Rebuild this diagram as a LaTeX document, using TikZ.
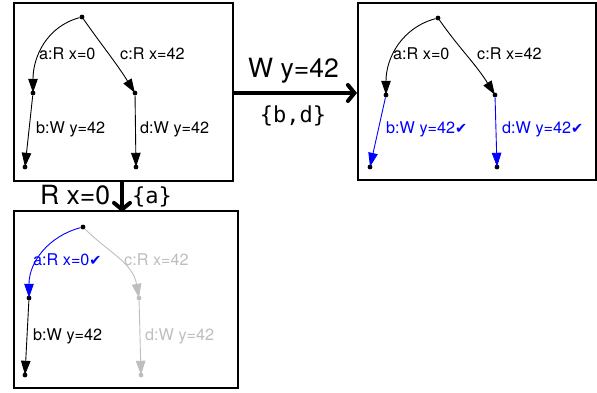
\documentclass[tikz,border=0pt]{standalone}
\usepackage{fontspec}
\setmainfont{TeX Gyre Heros}
\setmonofont{DejaVu Sans Mono}
\newfontfamily\chkfont{DejaVu Sans}
\newcommand{\chk}{{\chkfont\fontsize{14.5}{16}\selectfont ✔}}
\usetikzlibrary{arrows.meta}
\definecolor{lightg}{RGB}{190,190,190}
\definecolor{pblue}{RGB}{0,0,255}
\begin{document}
\begin{tikzpicture}[x=1pt,y=1pt,
  frame/.style={draw=black,line width=2pt},
  dot/.style={circle,fill,inner sep=0pt,minimum size=4.8pt},
  edge/.style={line width=0.9pt,-{Triangle[length=14pt,width=9.5pt]},shorten >=-2.4pt},
  lbl/.style={anchor=base west,inner sep=0pt,font=\fontsize{16.2}{19}\selectfont},
  big/.style={line width=4pt,-{Straight Barb[length=6.5pt,width=16pt,line cap=round]}},
  biglbl/.style={inner sep=0pt,font=\fontsize{26.5}{30}\selectfont},
  monolbl/.style={inner sep=0pt,font=\ttfamily\fontsize{22}{26}\selectfont},
  done/.style={pblue},
  faded/.style={lightg}]
\useasboundingbox (0,0) rectangle (597,393);
% frames
\node[frame,minimum width=219pt,minimum height=178pt,inner sep=0pt,anchor=south west] (box1) at (13,211) {};
\node[frame,minimum width=238pt,minimum height=177pt,inner sep=0pt,anchor=south west] (box2) at (357,212) {};
\node[frame,minimum width=224pt,minimum height=177pt,inner sep=0pt,anchor=south west] (box3) at (13,4) {};
% box 1
\node[dot] (t1) at (82,376) {};
\node[dot] (a1) at (33,300) {};
\node[dot] (c1) at (135,300) {};
\node[dot] (b1) at (25,226) {};
\node[dot] (d1) at (136,226) {};
\draw[edge] (t1) to[out=195,in=90] (a1);
\draw[edge] (t1) to[out=-55,in=122] (c1);
\draw[edge] (a1) -- (b1);
\draw[edge] (c1) -- (d1);
\node[lbl] (la1) at (39,333) {a:R x=0};
\node[lbl] (lc1) at (120,333) {c:R x=42};
\node[lbl] (lb1) at (36,259) {b:W y=42};
\node[lbl] (ld1) at (140,259) {d:W y=42};
% box 2
\node[dot] (t2) at (438,375) {};
\node[dot] (a2) at (386,298) {};
\node[dot] (c2) at (495,298) {};
\node[dot] (b2) at (370,226) {};
\node[dot] (d2) at (497,226) {};
\draw[edge] (t2) to[out=195,in=90] (a2);
\draw[edge] (t2) to[out=-55,in=122] (c2);
\draw[edge,done] (a2) -- (b2);
\draw[edge,done] (c2) -- (d2);
\node[lbl] (la2) at (393,333) {a:R x=0};
\node[lbl] (lc2) at (477,333) {c:R x=42};
\node[lbl,done] (lb2) at (386,259) {b:W y=42\chk};
\node[lbl,done] (ld2) at (502,259) {d:W y=42\chk};
% box 3
\node[dot] (t3) at (83,166) {};
\node[dot] (a3) at (29,95) {};
\node[dot,faded] (c3) at (139,95) {};
\node[dot] (b3) at (25,18) {};
\node[dot,faded] (d3) at (141,18) {};
\draw[edge,done] (t3) to[out=195,in=90] (a3);
\draw[edge,faded] (t3) to[out=-45,in=100] (c3);
\draw[edge] (a3) -- (b3);
\draw[edge,faded] (c3) -- (d3);
\node[lbl,done] (la3) at (33,127) {a:R x=0\chk};
\node[lbl,faded] (lc3) at (124,127) {c:R x=42};
\node[lbl] (lb3) at (33,52) {b:W y=42};
\node[lbl,faded] (ld3) at (145,52) {d:W y=42};
% transitions
\coordinate (r1) at (box1.east |- 0,300);
\coordinate (r2) at (box2.west |- 0,300);
\draw[big] (r1) -- (r2);
\node[biglbl,anchor=base west] (wl) at (248,315) {W y=42};
\node[monolbl] (wset) at (293,277) {\{b,d\}};
\coordinate (s1) at (122,211);
\coordinate (s2) at (122,181);
\draw[big] (s1) -- (s2);
\node[biglbl,anchor=base west] (rl) at (40,188) {R x=0};
\node[monolbl] (rset) at (152,196) {\{a\}};
\end{tikzpicture}
\end{document}
